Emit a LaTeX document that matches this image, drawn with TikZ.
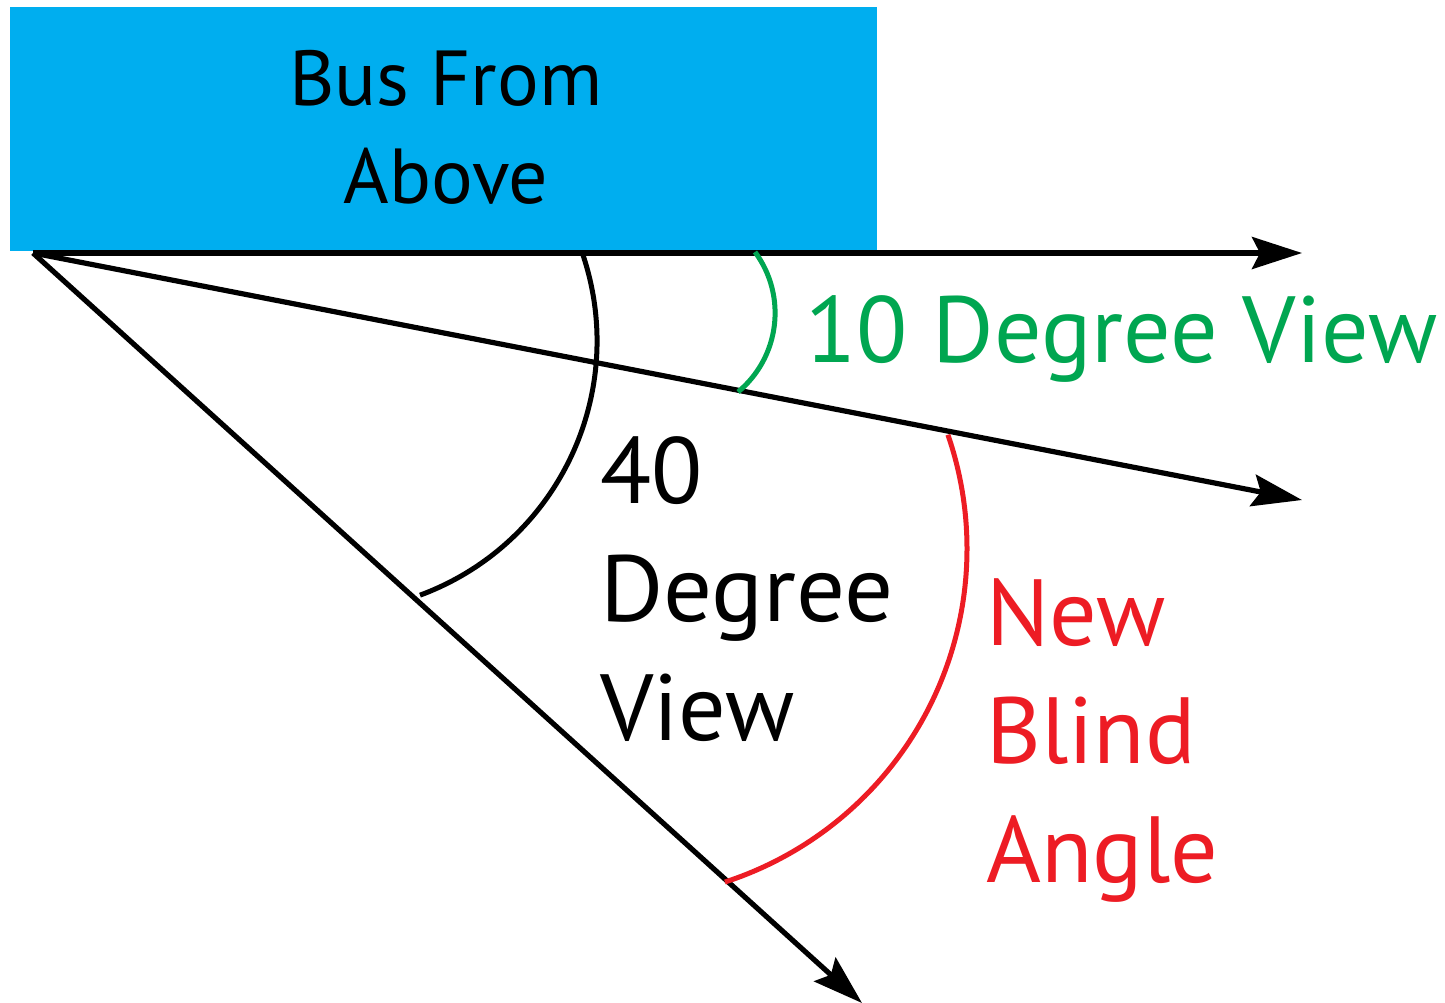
\documentclass[tikz,border=0pt]{standalone}
\usepackage{fontspec}
\setmainfont{PT Sans}
\usetikzlibrary{arrows.meta}
\definecolor{busblue}{HTML}{00AEEF}
\definecolor{viewgreen}{HTML}{00A651}
\definecolor{blindred}{HTML}{ED1C24}
\begin{document}
\begin{tikzpicture}[x=1pt,y=-1pt,
  ray/.style={line width=5.2pt,-{Stealth[length=50pt,width=32pt,inset=8pt]}},
  arcline/.style={line width=5pt},
  bigtext/.style={inner sep=0pt,anchor=base west,font=\fontsize{94}{118}\selectfont},
  bustext/.style={inner sep=0pt,anchor=base,font=\fontsize{78}{98}\selectfont}]
\useasboundingbox (0,0) rectangle (1445,1002);
\fill[white] (0,0) rectangle (1445,1002);
% bus
\fill[busblue] (10,7) rectangle (877,251);
\node[bustext] (bus1) at (446,105) {Bus From};
\node[bustext] (bus2) at (446,203) {Above};
% rays
\coordinate (o) at (33,253);
\coordinate (t1) at (1302,253);
\coordinate (t2) at (1302,500);
\coordinate (t3) at (862,1003);
\draw[ray] (o) -- (t1);
\draw[ray] (o) -- (t2);
\draw[ray] (o) -- (t3);
% arcs
\draw[arcline,black] (326,341) ++(-19.2:271) arc[start angle=-19.2,end angle=69.7,radius=271];
\draw[arcline,viewgreen] (672.5,313) ++(-36.5:102.6) arc[start angle=-36.5,end angle=50.3,radius=102.6];
\draw[arcline,blindred] (616.6,548.8) ++(-19:350.4) arc[start angle=-19,end angle=72,radius=350.4];
% labels
\node[bigtext,text=viewgreen] (ten) at (805,362) {10 Degree View};
\node[bigtext] (forty) at (600,503) {40};
\node[bigtext,xscale=1.03] (deg) at (600,621) {Degree};
\node[bigtext] (view) at (600,740) {View};
\node[bigtext,text=blindred] (new) at (986,645) {New};
\node[bigtext,text=blindred] (blind) at (986,763) {Blind};
\node[bigtext,text=blindred] (angle) at (986,882) {Angle};
\end{tikzpicture}
\end{document}
